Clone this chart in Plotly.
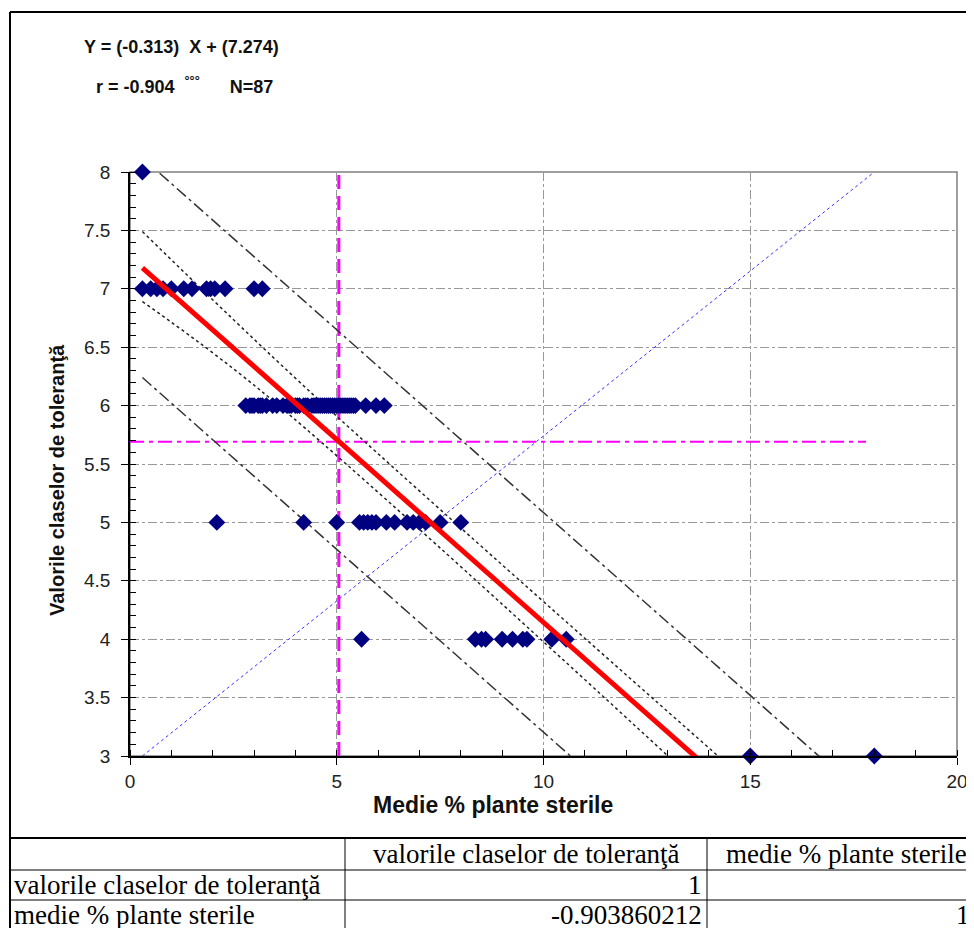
import plotly.graph_objects as go

# ---------------- data ----------------
slope = -0.313
intercept = 7.274
r_value = -0.904
n_obs = 87
mean_x = 5.05
mean_y = 5.69
pred_half = 0.94

pts_y8 = [0.3]
pts_y7 = [0.3, 0.5, 0.65, 0.8, 1.0, 1.3, 1.5, 1.85, 1.95, 2.05, 2.3, 3.0, 3.2]
pts_y6 = [2.8, 2.9, 2.95, 3.0, 3.1, 3.15, 3.2, 3.3, 3.45, 3.55, 3.7, 3.8, 3.85, 3.9,
          4.0, 4.05, 4.1, 4.2, 4.25, 4.3, 4.4, 4.45, 4.5, 4.55, 4.6, 4.65, 4.7, 4.75,
          4.8, 4.85, 4.9, 4.95, 5.0, 5.05, 5.1, 5.15, 5.2, 5.25, 5.3, 5.35, 5.4, 5.45,
          5.7, 5.95, 6.15]
pts_y5 = [2.1, 4.2, 5.0, 5.55, 5.65, 5.75, 5.85, 5.95, 6.2, 6.4, 6.7, 6.85, 7.0, 7.15, 7.5, 8.0]
pts_y4 = [5.6, 8.35, 8.5, 8.6, 9.0, 9.25, 9.5, 9.6, 10.2, 10.55]
pts_y3 = [15.0, 18.0]

conf_upper_x = [0.3, 4.35, 14.22]
conf_upper_y = [7.49, 6.12, 3.0]
conf_lower_x = [0.3, 3.19, 13.01]
conf_lower_y = [6.89, 6.12, 3.0]
diag_x = [0.3, 18.0]
diag_y = [3.0, 8.0]
hline_x = [0.0, 17.8]
line_x = [0.3, 20.0]

x_ticks = [0, 5, 10, 15, 20]
y_ticks = [3, 3.5, 4, 4.5, 5, 5.5, 6, 6.5, 7, 7.5, 8]
x_minor_step = 1
y_minor_step = 0.1

tbl_header = ["", "valorile claselor de toleranţă", "medie % plante sterile"]
tbl_row1 = ["valorile claselor de toleranţă", "1", ""]
tbl_row2 = ["medie % plante sterile", "-0.903860212", "1"]

x_title = "Medie % plante sterile"
y_title = "Valorile claselor de toleranţă"

# ---------------- derived ----------------
xs = pts_y8 + pts_y7 + pts_y6 + pts_y5 + pts_y4 + pts_y3
ys = ([8] * len(pts_y8) + [7] * len(pts_y7) + [6] * len(pts_y6) +
      [5] * len(pts_y5) + [4] * len(pts_y4) + [3] * len(pts_y3))
reg_y = [slope * x + intercept for x in line_x]
pred_up = [v + pred_half for v in reg_y]
pred_lo = [v - pred_half for v in reg_y]

W, H = 974, 928
OFF = 8  # page body margin in the browser
L, R, T, B = 130, 957, 172, 756  # target plot area in screen pixels


def px(x):
    return (x - L) / (R - L)


def py(y):
    return (B - y) / (B - T)


fig = go.Figure()

fig.add_trace(go.Scatter(x=[mean_x, mean_x], y=[3, 8], mode="lines",
                         line=dict(color="#FF00FF", width=3, dash="14px,7px"),
                         hoverinfo="skip"))
fig.add_trace(go.Scatter(x=hline_x, y=[mean_y, mean_y], mode="lines",
                         line=dict(color="#FF00FF", width=2, dash="14px,5px,4px,5px"),
                         hoverinfo="skip"))
fig.add_trace(go.Scatter(x=diag_x, y=diag_y, mode="lines",
                         line=dict(color="#3333FF", width=1, dash="dot")))
fig.add_trace(go.Scatter(x=line_x, y=pred_up, mode="lines",
                         line=dict(color="#333333", width=1.5, dash="12px,4px,3px,4px")))
fig.add_trace(go.Scatter(x=line_x, y=pred_lo, mode="lines",
                         line=dict(color="#333333", width=1.5, dash="12px,4px,3px,4px")))
fig.add_trace(go.Scatter(x=conf_upper_x, y=conf_upper_y, mode="lines",
                         line=dict(color="#222222", width=1.5, dash="dot", shape="spline")))
fig.add_trace(go.Scatter(x=conf_lower_x, y=conf_lower_y, mode="lines",
                         line=dict(color="#222222", width=1.5, dash="dot", shape="spline")))
fig.add_trace(go.Scatter(x=xs, y=ys, mode="markers",
                         marker=dict(symbol="diamond", size=13, color="#000080"),
                         cliponaxis=False))
fig.add_trace(go.Scatter(x=line_x, y=reg_y, mode="lines",
                         line=dict(color="#FF0000", width=5)))

shapes = []
shapes.append(dict(type="rect", xref="paper", yref="paper", x0=0, x1=1, y0=0, y1=1,
                   line=dict(color="#808080", width=1.5), layer="below"))
blk = dict(color="black", width=2)
shapes.append(dict(type="line", xref="paper", yref="paper", x0=px(10), x1=px(990),
                   y0=py(12), y1=py(12), line=blk))
shapes.append(dict(type="line", xref="paper", yref="paper", x0=px(10), x1=px(10),
                   y0=py(12), y1=py(945), line=blk))
shapes.append(dict(type="line", xref="paper", yref="paper", x0=px(10), x1=px(990),
                   y0=py(838), y1=py(838), line=blk))
for yy in (870, 900):
    shapes.append(dict(type="line", xref="paper", yref="paper", x0=px(10), x1=px(990),
                       y0=py(yy), y1=py(yy), line=dict(color="black", width=1)))
for xx in (345, 707):
    shapes.append(dict(type="line", xref="paper", yref="paper", x0=px(xx), x1=px(xx),
                       y0=py(838), y1=py(945), line=dict(color="black", width=1)))

ann = []
sans = "Liberation Sans, Arial"
ann.append(dict(xref="paper", yref="paper", x=px(82), y=py(47), xanchor="left", yanchor="middle",
                text="<b>Y = (%s)\u00a0\u00a0X + (%s)</b>" % (slope, intercept), showarrow=False,
                font=dict(family=sans, size=18, color="#111111")))
ann.append(dict(xref="paper", yref="paper", x=px(94), y=py(86), xanchor="left", yanchor="middle",
                text="<b>r = %s\u00a0\u00a0<sup>°°°</sup>\u00a0\u00a0\u00a0\u00a0\u00a0\u00a0N=%d</b>" % (r_value, n_obs),
                showarrow=False,
                font=dict(family=sans, size=18, color="#111111")))
ann.append(dict(xref="paper", yref="paper", x=px(493), y=py(805), xanchor="center", yanchor="middle",
                text="<b>%s</b>" % x_title, showarrow=False,
                font=dict(family=sans, size=23, color="#111111")))
ann.append(dict(xref="paper", yref="paper", x=px(57), y=py(480), xanchor="center", yanchor="middle",
                text="<b>%s</b>" % y_title, textangle=-90, showarrow=False,
                font=dict(family=sans, size=20, color="#111111")))

serif = dict(family="Liberation Serif, Times New Roman", size=27, color="black")
row_y = [854, 885, 915]
rows = [tbl_header, tbl_row1, tbl_row2]
for ri, row in enumerate(rows):
    for ci, txt in enumerate(row):
        if not txt:
            continue
        if ri == 0:
            xc = {1: 526, 2: 846}[ci]
            ann.append(dict(xref="paper", yref="paper", x=px(xc), y=py(row_y[ri]),
                            xanchor="center", yanchor="middle", text=txt, showarrow=False, font=serif))
        elif ci == 0:
            ann.append(dict(xref="paper", yref="paper", x=px(12), y=py(row_y[ri]),
                            xanchor="left", yanchor="middle", text=txt, showarrow=False, font=serif))
        else:
            xr = {1: 704, 2: 972}[ci]
            ann.append(dict(xref="paper", yref="paper", x=px(xr), y=py(row_y[ri]),
                            xanchor="right", yanchor="middle", text=txt, showarrow=False, font=serif))

tickfont = dict(family=sans, size=19, color="#222222")
fig.update_layout(
    width=W, height=H,
    margin=dict(l=L - OFF, r=W - (R - OFF), t=T - OFF, b=H - (B - OFF), pad=0),
    paper_bgcolor="white", plot_bgcolor="white",
    showlegend=False,
    shapes=shapes, annotations=ann,
    xaxis=dict(range=[x_ticks[0], x_ticks[-1]], tickmode="linear", tick0=x_ticks[0],
               dtick=x_ticks[1] - x_ticks[0], showgrid=True, gridcolor="#999999",
               griddash="dashdot", gridwidth=1, zeroline=False,
               showline=True, linecolor="black", linewidth=1.5,
               ticks="outside", ticklen=7, tickcolor="black", tickfont=tickfont,
               minor=dict(tickmode="linear", tick0=x_ticks[0], dtick=x_minor_step,
                          ticks="inside", ticklen=6, tickcolor="black",
                          tickwidth=1, showgrid=False)),
    yaxis=dict(range=[y_ticks[0], y_ticks[-1]], tickmode="linear", tick0=y_ticks[0],
               dtick=y_ticks[1] - y_ticks[0], showgrid=True, gridcolor="#999999",
               griddash="dashdot", gridwidth=1, zeroline=False,
               showline=True, linecolor="black", linewidth=1.5,
               ticks="outside", ticklen=7, tickcolor="black", tickfont=tickfont,
               ticklabelstandoff=7,
               minor=dict(tickmode="linear", tick0=y_ticks[0], dtick=y_minor_step,
                          ticks="inside", ticklen=6, tickcolor="black",
                          tickwidth=1, showgrid=False)),
)

fig.write_html("out.html")
